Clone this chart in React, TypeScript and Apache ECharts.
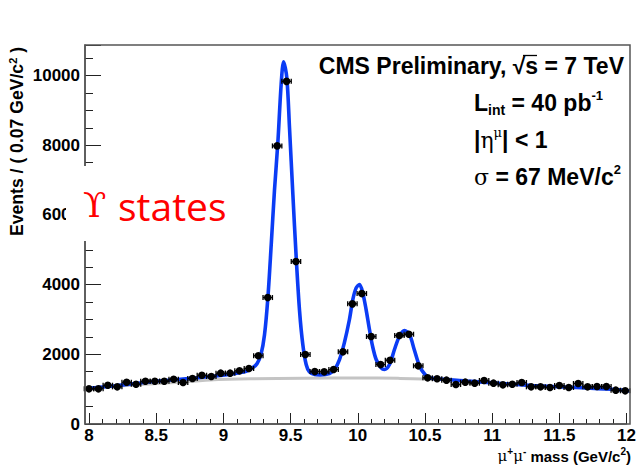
import React, { useEffect, useRef } from 'react';
import * as echarts from 'echarts';

// Histogram bin centres (GeV/c^2) and events per bin
const binCenters = [
  8.0, 8.07, 8.14, 8.21, 8.28, 8.35, 8.42, 8.49, 8.56, 8.63,
  8.7, 8.77, 8.84, 8.91, 8.98, 9.05, 9.12, 9.19, 9.26, 9.33,
  9.4, 9.47, 9.54, 9.61, 9.68, 9.75, 9.82, 9.89, 9.96, 10.03,
  10.1, 10.17, 10.24, 10.31, 10.38, 10.45, 10.52, 10.59, 10.66, 10.73,
  10.8, 10.87, 10.94, 11.01, 11.08, 11.15, 11.22, 11.29, 11.36, 11.43,
  11.5, 11.57, 11.64, 11.71, 11.78, 11.85, 11.92, 11.99,
];
const eventsPerBin = [
  1010, 1010, 1113, 1067, 1199, 1142, 1228, 1228, 1228, 1285,
  1191, 1306, 1400, 1363, 1458, 1458, 1527, 1593, 1960, 3630,
  7983, 9836, 4663, 1994, 1506, 1498, 1564, 2072, 3449, 3745,
  2511, 1707, 1831, 2540, 2577, 1670, 1326, 1300, 1257, 1133,
  1200, 1171, 1248, 1171, 1125, 1142, 1191, 1067, 1067, 1047,
  1105, 1047, 1162, 1067, 1076, 1076, 970, 953,
];
const BIN_HALF_WIDTH = 0.035;

// Fit curve (signal + background)
const fitX = [
  7.965, 8.0, 8.2, 8.43, 8.7, 8.92, 9.05, 9.17, 9.22, 9.25,
  9.28, 9.306, 9.331, 9.356, 9.38, 9.405, 9.43, 9.448, 9.472, 9.492,
  9.517, 9.542, 9.567, 9.591, 9.616, 9.64, 9.68, 9.72, 9.79, 9.827,
  9.864, 9.9, 9.938, 9.963, 9.988, 10.013, 10.037, 10.062, 10.087, 10.11,
  10.137, 10.174, 10.198, 10.236, 10.273, 10.31, 10.347, 10.385, 10.42, 10.46,
  10.5, 10.535, 10.61, 10.81, 11.05, 11.3, 11.67, 11.92, 12.025,
];
const fitY = [
  1010, 1025, 1100, 1200, 1290, 1370, 1430, 1515, 1620, 1730,
  2000, 2560, 3620, 5150, 6700, 8060, 9760, 10400, 9940, 8505,
  6590, 4770, 3237, 2282, 1707, 1500, 1420, 1410, 1449, 1564,
  1851, 2330, 3000, 3572, 3908, 4003, 3765, 3285, 2712, 2233,
  1851, 1613, 1564, 1707, 2138, 2520, 2683, 2568, 2138, 1659,
  1420, 1326, 1290, 1235, 1172, 1105, 1039, 990, 945,
];

// Background-only component
const bkgX = [7.965, 8.3, 8.6, 8.9, 9.2, 9.6, 10.0, 10.3, 10.6, 10.81, 11.05, 11.3, 11.67, 11.92, 12.025];
const bkgY = [1020, 1110, 1185, 1265, 1300, 1315, 1320, 1310, 1285, 1235, 1172, 1105, 1039, 990, 945];

const Y_MAX = 10880;

export default function App() {
  const ref = useRef<HTMLDivElement>(null);
  useEffect(() => {
    const chart = echarts.init(ref.current!, null, { renderer: 'svg' });
    const points = binCenters.map((x, i) => [x, eventsPerBin[i]]);
    const fit = fitX.map((x, i) => [x, fitY[i]]);
    const bkg = bkgX.map((x, i) => [x, bkgY[i]]);
    const axisColor = '#555';
    const tickColor = '#222';
    const sans = 'Liberation Sans, Arial, Helvetica, sans-serif';
    const serif = 'DejaVu Serif, Liberation Serif, serif';
    const labelFont = { fontFamily: sans, fontWeight: 'bold' as const, fontSize: 17, color: '#000' };
    const INFO = 23;
    const richBase = {
      sup: { fontFamily: sans, fontWeight: 'bold', fontSize: 13, lineHeight: 13, verticalAlign: 'top', color: '#000' },
      sub: { fontFamily: sans, fontWeight: 'bold', fontSize: 14, lineHeight: 14, verticalAlign: 'bottom', color: '#000' },
      g: { fontFamily: serif, fontWeight: 'normal', fontSize: 22, lineHeight: 28, color: '#000' },
      gsup: { fontFamily: serif, fontWeight: 'normal', fontSize: 13, lineHeight: 13, verticalAlign: 'top', color: '#000' },
    };
    const infoText = (text: string, x: number, y: number, align: string) => ({
      type: 'text',
      x,
      y,
      z: 60,
      style: {
        text,
        fontFamily: sans,
        fontWeight: 'bold',
        fontSize: INFO,
        lineHeight: 28,
        fill: '#000',
        align,
        verticalAlign: 'middle',
        rich: richBase,
      },
    });

    chart.setOption({
      animation: false,
      grid: { left: 89, right: 12, top: 45, bottom: 45, containLabel: false },
      xAxis: [
        {
          type: 'value',
          min: 8,
          max: 12,
          interval: 0.5,
          position: 'bottom',
          axisLine: { show: true, lineStyle: { color: axisColor, width: 1.5 } },
          axisTick: { show: true, inside: true, length: 11, lineStyle: { color: tickColor, width: 1 } },
          axisLabel: { ...labelFont, margin: 3 },
          splitLine: { show: false },
        },
        {
          type: 'value',
          min: 8,
          max: 12,
          interval: 0.1,
          position: 'bottom',
          axisLine: { show: false },
          axisTick: { show: true, inside: true, length: 5, lineStyle: { color: tickColor, width: 1 } },
          axisLabel: { show: false },
          splitLine: { show: false },
        },
      ],
      yAxis: [
        {
          type: 'value',
          min: 0,
          max: Y_MAX,
          interval: 2000,
          position: 'left',
          offset: 4,
          axisLine: { show: true, lineStyle: { color: axisColor, width: 1.5 } },
          axisTick: { show: true, inside: true, length: 16, lineStyle: { color: tickColor, width: 1 } },
          axisLabel: {
            ...labelFont,
            margin: 5,
            formatter: (v: number) => (v % 2000 === 0 ? String(v) : ''),
          },
          splitLine: { show: false },
        },
        {
          type: 'value',
          min: 0,
          max: Y_MAX,
          interval: 500,
          position: 'left',
          offset: 4,
          axisLine: { show: false },
          axisTick: { show: true, inside: true, length: 8, lineStyle: { color: tickColor, width: 1 } },
          axisLabel: { show: false },
          splitLine: { show: false },
        },
      ],
      series: [
        {
          type: 'line',
          name: 'background',
          data: bkg,
          showSymbol: false,
          smooth: 0.3,
          clip: false,
          lineStyle: { color: '#c4c4c4', width: 3 },
          z: 2,
        },
        {
          type: 'line',
          name: 'fit',
          data: fit,
          showSymbol: false,
          smooth: 0.3,
          clip: false,
          lineStyle: { color: '#0b3cf5', width: 3.6 },
          z: 3,
        },
        {
          type: 'custom',
          name: 'data',
          data: points,
          clip: false,
          z: 5,
          renderItem: (_params: any, api: any) => {
            const x = api.value(0);
            const y = api.value(1);
            const c = api.coord([x, y]);
            const l = api.coord([x - BIN_HALF_WIDTH, y]);
            const r = api.coord([x + BIN_HALF_WIDTH, y]);
            const st = { stroke: '#000', lineWidth: 1.3 };
            return {
              type: 'group',
              children: [
                { type: 'line', shape: { x1: l[0], y1: c[1], x2: r[0], y2: c[1] }, style: st },
                { type: 'line', shape: { x1: l[0], y1: c[1] - 2.5, x2: l[0], y2: c[1] + 2.5 }, style: st },
                { type: 'line', shape: { x1: r[0], y1: c[1] - 2.5, x2: r[0], y2: c[1] + 2.5 }, style: st },
                { type: 'circle', shape: { cx: c[0], cy: c[1], r: 3.8 }, style: { fill: '#000' } },
              ],
            };
          },
        },
      ],
      graphic: {
        elements: [
          {
            type: 'rect',
            z: 50,
            shape: { x: 85, y: 45, width: 545, height: 379 },
            style: { fill: 'none', stroke: axisColor, lineWidth: 1.5 },
          },
          // y axis title
          {
            type: 'text',
            x: 17,
            y: 47,
            rotation: Math.PI / 2,
            z: 60,
            style: {
              text: 'Events / ( 0.07 GeV/c{sup|2} )',
              fontFamily: sans,
              fontWeight: 'bold',
              fontSize: 17.6,
              lineHeight: 20,
              fill: '#000',
              align: 'right',
              verticalAlign: 'middle',
              rich: {
                sup: { fontFamily: sans, fontWeight: 'bold', fontSize: 11, lineHeight: 11, verticalAlign: 'top', color: '#000' },
              },
            },
          },
          // x axis title
          {
            type: 'text',
            x: 631,
            y: 456,
            z: 60,
            style: {
              text: '{g|μ}{gs|+}{g|μ}{gs|-} mass (GeV/c{sup|2})',
              fontFamily: sans,
              fontWeight: 'bold',
              fontSize: 15,
              lineHeight: 19,
              fill: '#000',
              align: 'right',
              verticalAlign: 'middle',
              rich: {
                g: { fontFamily: serif, fontWeight: 'normal', fontSize: 15, lineHeight: 19, color: '#000' },
                gs: { fontFamily: sans, fontWeight: 'bold', fontSize: 10, lineHeight: 10, verticalAlign: 'top', color: '#000' },
                sup: { fontFamily: sans, fontWeight: 'bold', fontSize: 10, lineHeight: 10, verticalAlign: 'top', color: '#000' },
              },
            },
          },
          infoText('CMS Preliminary, √s = 7 TeV', 624, 66, 'right'),
          infoText('L{sub|int} = 40 pb{sup|-1}', 474, 103, 'left'),
          infoText('|{g|η}{gsup|μ}| < 1', 474, 140, 'left'),
          infoText('{g|σ} = 67 MeV/c{sup|2}', 474, 177, 'left'),
          // overline of the square root
          {
            type: 'line',
            z: 60,
            shape: { x1: 523, y1: 55.5, x2: 537, y2: 55.5 },
            style: { stroke: '#000', lineWidth: 1.3 },
          },
          // white box with the red label
          {
            type: 'rect',
            z: 100,
            shape: { x: 66, y: 166, width: 170, height: 75 },
            style: { fill: '#ffffff', stroke: 'none' },
          },
          {
            type: 'text',
            x: 83,
            y: 205,
            z: 101,
            style: {
              text: 'ϒ',
              fontFamily: serif,
              fontSize: 34,
              fill: '#ff0000',
              align: 'left',
              verticalAlign: 'middle',
            },
          },
          {
            type: 'text',
            x: 118,
            y: 205,
            z: 101,
            style: {
              text: 'states',
              fontFamily: 'Open Sans, sans-serif',
              fontSize: 39,
              fill: '#ff0000',
              align: 'left',
              verticalAlign: 'middle',
            },
          },
        ],
      },
    });
    return () => chart.dispose();
  }, []);
  return <div ref={ref} style={{ position: 'absolute', left: 0, top: 0, width: 639, height: 469 }} />;
}
